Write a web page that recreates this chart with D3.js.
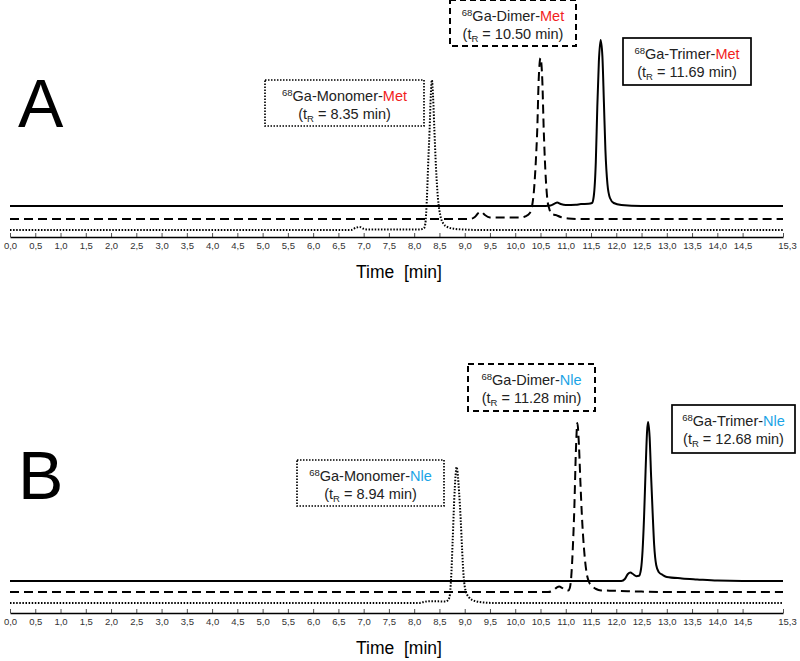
<!DOCTYPE html>
<html>
<head>
<meta charset="utf-8">
<script src="https://cdn.jsdelivr.net/npm/d3@7"></script>
<style>
  body { margin: 0; background: #fff; }
  svg { display: block; font-family: "Liberation Sans", Arial, sans-serif; }
</style>
</head>
<body>
<svg id="chart" width="800" height="661"></svg>
<script>
// DATA - retention time [min] vs. signal (arbitrary units)
var majorTicks = [0,0.5,1,1.5,2,2.5,3,3.5,4,4.5,5,5.5,6,6.5,7,7.5,8,8.5,9,9.5,10,10.5,11,11.5,12,12.5,13,13.5,14,14.5,15.3];
var timeMax = 15.3;

var aMonomer = [[0,0],[6.75,0],[6.85,1.2],[6.92,1.5],[7.0,0.6],[7.1,0.2],[8.1,0.3],[8.19,0.8],[8.22,3],[8.25,15],[8.28,35],[8.305,50],[8.33,68],[8.35,75],[8.375,66],[8.4,50],[8.43,32],[8.47,16],[8.52,7],[8.57,3.5],[8.66,1.5],[8.8,0.6],[9.0,0.2],[9.3,0],[15.3,0]];
var aDimer = [[0,0],[9.1,0],[9.2,1],[9.27,3],[9.33,3.6],[9.4,2],[9.5,0.8],[10.1,0.7],[10.2,1.3],[10.29,3],[10.33,6],[10.37,14],[10.41,30],[10.435,44],[10.465,70],[10.5,80.5],[10.535,70],[10.565,44],[10.595,25],[10.635,10],[10.675,5],[10.72,2.5],[10.8,2],[10.9,1],[11.05,0.3],[11.3,0],[15.3,0]];
var aTrimer = [[0,0],[10.5,0],[10.7,0.3],[10.78,1.2],[10.83,1.7],[10.9,1],[11.0,0.5],[11.2,0.6],[11.3,1],[11.45,1.1],[11.52,1.5],[11.555,5],[11.595,22],[11.625,50],[11.655,72],[11.69,83],[11.725,75],[11.755,52],[11.785,28],[11.825,11],[11.875,4],[11.95,1.5],[12.1,0.5],[12.5,0],[15.3,0]];

var bMonomer = [[0,0],[8.1,0],[8.2,0.6],[8.3,0.9],[8.5,0.8],[8.62,0.7],[8.67,1.5],[8.7,3],[8.73,12],[8.76,30],[8.79,50],[8.82,64],[8.84,68],[8.86,65],[8.89,55],[8.92,42],[8.95,26],[8.98,13],[9.02,6],[9.08,3],[9.2,1],[9.4,0.2],[9.6,0],[15.3,0]];
var bDimer = [[0,0],[10.65,0],[10.75,0.8],[10.82,2.2],[10.87,2.7],[10.93,2],[11.0,0.8],[11.05,0.7],[11.08,2],[11.11,8],[11.14,22],[11.17,42],[11.2,70],[11.23,84.5],[11.26,74],[11.29,55],[11.32,38],[11.36,22],[11.41,10],[11.46,5],[11.52,3],[11.6,1.5],[11.7,0.8],[12.0,0.6],[12.5,0.2],[13,0],[15.3,0]];
var bTrimer = [[0,0],[12.1,0],[12.17,1],[12.23,3.5],[12.28,4.2],[12.33,3.5],[12.4,2.4],[12.45,2.6],[12.49,6],[12.52,15],[12.55,32],[12.58,55],[12.61,75],[12.63,79.5],[12.66,72],[12.69,52],[12.72,34],[12.75,18],[12.79,8],[12.84,4.5],[12.92,3],[13.0,2],[13.3,1.3],[13.6,0.8],[14.0,0.2],[14.5,0],[15.3,0]];

var aNames = ['Monomer','Dimer','Trimer'];
var aTimes = ['8.35','10.50','11.69'];
var bTimes = ['8.94','11.28','12.68'];
var aSuffix = 'Met';
var bSuffix = 'Nle';

// LAYOUT
var svg = d3.select('#chart');
var x = d3.scaleLinear().domain([0, timeMax]).range([10, 783]);

var styles = {
	dotted: { width: 2, dash: '1.5,1.6', boxWidth: 1.7, boxDash: '1.5,1.5' },
	dashed: { width: 2, dash: '9,5', boxWidth: 2, boxDash: '6,4' },
	solid:  { width: 2, dash: null, boxWidth: 1.7, boxDash: null }
};

var panels = [
	{ letter: 'A', letterY: 127, axisY: 237, suffix: aSuffix, suffixCol: '#f21d1d',
	  traces: [ {d: aMonomer, s: 'dotted', off: 3.5}, {d: aDimer, s: 'dashed', off: 9}, {d: aTrimer, s: 'solid', off: 15.5} ],
	  times: aTimes,
	  boxes: [ {x0: 265, x1: 424, y0: 80, y1: 126}, {x0: 450, x1: 576, y0: 0, y1: 46}, {x0: 623, x1: 751, y0: 38, y1: 85} ] },
	{ letter: 'B', letterY: 499, axisY: 613, suffix: bSuffix, suffixCol: '#1ba4e6',
	  traces: [ {d: bMonomer, s: 'dotted', off: 5}, {d: bDimer, s: 'dashed', off: 10.5}, {d: bTrimer, s: 'solid', off: 16} ],
	  times: bTimes,
	  boxes: [ {x0: 297, x1: 444, y0: 460, y1: 506}, {x0: 468, x1: 595, y0: 364, y1: 411}, {x0: 672, x1: 795, y0: 405, y1: 453} ] }
];

var fmt = function(v) { return d3.format('.1f')(v).replace('.', ','); };

panels.forEach(function(p) {
	var y = d3.scaleLinear().domain([0, 100]).range([p.axisY, p.axisY - 200]);
	var g = svg.append('g');

	// panel letter
	g.append('text')
		.attr('x', 18).attr('y', p.letterY)
		.attr('font-size', 68)
		.attr('fill', '#000')
		.text(p.letter);

	// traces
	p.traces.forEach(function(t) {
		var st = styles[t.s];
		var line = d3.line()
			.x(function(d) { return x(d[0]); })
			.y(function(d) { return y(d[1] + t.off); })
			.curve(d3.curveMonotoneX);
		g.append('path')
			.datum(t.d)
			.attr('d', line)
			.attr('fill', 'none')
			.attr('stroke', '#000')
			.attr('stroke-width', st.width)
			.attr('stroke-dasharray', st.dash);
	});

	// axis: minor + major ticks pointing up
	var minorAxis = d3.axisBottom(x)
		.tickValues(d3.range(0, 154).map(function(i) { return i / 10; }))
		.tickSizeInner(-2).tickSizeOuter(0).tickFormat('');
	var majorAxis = d3.axisBottom(x)
		.tickValues(majorTicks)
		.tickSizeInner(-4).tickSizeOuter(0).tickPadding(5)
		.tickFormat(fmt);

	var ga = g.append('g').attr('transform', 'translate(0,' + p.axisY + ')');
	ga.call(minorAxis);
	ga.call(majorAxis);
	ga.selectAll('path.domain').attr('stroke', '#000').attr('stroke-width', 1.6);
	ga.selectAll('line').attr('stroke', '#222').attr('stroke-width', 0.8);
	ga.selectAll('text')
		.attr('font-family', '"Liberation Sans", Arial, sans-serif')
		.attr('font-size', 9.5)
		.attr('fill', '#333')
		.attr('dx', function(d) { return d === timeMax ? 4 : 0; });

	g.append('text')
		.attr('x', 399).attr('y', p.axisY + 41)
		.attr('text-anchor', 'middle')
		.attr('font-size', 17.5)
		.attr('fill', '#000')
		.text('Time\u00a0 [min]');

	// peak label boxes
	p.boxes.forEach(function(b, i) {
		var st = styles[p.traces[i].s];
		g.append('rect')
			.attr('x', b.x0).attr('y', b.y0)
			.attr('width', b.x1 - b.x0).attr('height', b.y1 - b.y0)
			.attr('fill', '#fff')
			.attr('stroke', '#000')
			.attr('stroke-width', st.boxWidth)
			.attr('stroke-dasharray', st.boxDash);

		var cx = (b.x0 + b.x1) / 2;
		var t1 = g.append('text')
			.attr('x', cx).attr('y', b.y0 + 21)
			.attr('text-anchor', 'middle')
			.attr('font-size', 14.5)
			.attr('fill', '#222');
		t1.append('tspan').attr('font-size', 9.5).attr('dy', -5).text('68');
		t1.append('tspan').attr('dy', 5).text('Ga-' + aNames[i] + '-');
		t1.append('tspan').attr('fill', p.suffixCol).text(p.suffix);

		var t2 = g.append('text')
			.attr('x', cx).attr('y', b.y0 + 39)
			.attr('text-anchor', 'middle')
			.attr('font-size', 14.5)
			.attr('fill', '#222');
		t2.append('tspan').text('(t');
		t2.append('tspan').attr('font-size', 9.5).attr('dy', 3).text('R');
		t2.append('tspan').attr('dy', -3).text(' = ' + p.times[i] + ' min)');
	});
});
</script>
</body>
</html>
